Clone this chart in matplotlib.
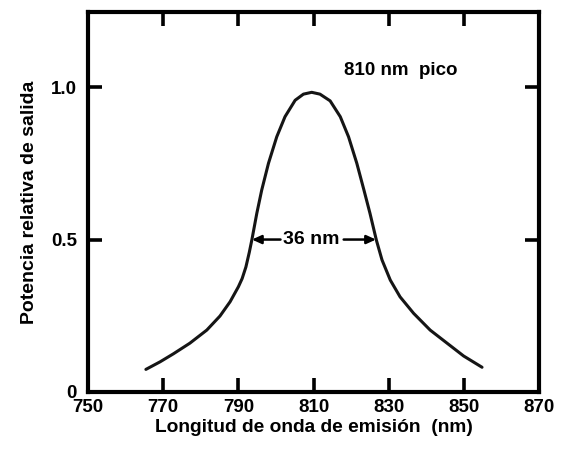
import matplotlib
matplotlib.use("Agg")
import matplotlib.pyplot as plt

# values
wavelength = [765.4, 769.2, 772.7, 777.1, 781.6, 785.1, 787.8, 790.0, 791.0,
              792.0, 792.9, 793.6, 794.9, 796.2, 798.0, 800.2, 802.4, 805.1,
              807.3, 809.5, 811.7, 814.4, 817.1, 819.3, 821.5, 823.4, 825.0,
              826.7, 828.2, 830.4, 833.0, 836.6, 841.0, 845.5, 849.9, 854.8]
power = [0.074, 0.099, 0.125, 0.160, 0.203, 0.249, 0.296, 0.345, 0.372,
         0.410, 0.458, 0.500, 0.586, 0.662, 0.750, 0.837, 0.903, 0.957,
         0.977, 0.983, 0.977, 0.955, 0.903, 0.837, 0.750, 0.662, 0.586,
         0.498, 0.433, 0.367, 0.312, 0.258, 0.203, 0.160, 0.118, 0.081]

x_ticks = [750, 770, 790, 810, 830, 850, 870]
y_ticks = [0, 0.5, 1.0]
y_tick_labels = ['0', '0.5', '1.0']

fwhm_left, fwhm_right = 793.6, 826.6
peak_label = '810 nm  pico'
width_label = '36 nm'

plt.rcParams['font.family'] = ['Liberation Sans', 'DejaVu Sans']
plt.rcParams['font.weight'] = 'bold'

fig = plt.figure(figsize=(5.64, 4.5), dpi=100)
ax = fig.add_axes([0.156, 0.129, 0.800, 0.844])

ax.plot(wavelength, power, color='#151515', linewidth=2.2,
        solid_capstyle='round', solid_joinstyle='round')

ax.set_xlim(750, 870)
ax.set_ylim(0, 1.246)
ax.set_xticks(x_ticks)
ax.set_yticks(y_ticks)
ax.set_yticklabels(y_tick_labels)

# inward ticks on every side, labels only on left and bottom
ax.tick_params(direction='in', length=10, width=2.6, top=True, right=True,
               labelsize=13.5, pad=5, colors='black')
ax.tick_params(axis='y', pad=8)
for s in ax.spines.values():
    s.set_linewidth(3)

ax.set_xlabel('Longitud de onda de emisión  (nm)', fontsize=13.8, fontweight='bold', labelpad=2)
ax.set_ylabel('Potencia relativa de salida', fontsize=14, fontweight='bold', labelpad=9)

# annotations
ax.text(833.3, 1.056, peak_label, ha='center', va='center', fontsize=13.5, fontweight='bold')
ax.text(809.5, 0.5, width_label, ha='center', va='center', fontsize=14, fontweight='bold')
arrow = dict(arrowstyle='-|>,head_length=0.55,head_width=0.25', color='black', lw=1.8,
             shrinkA=0, shrinkB=0)
ax.annotate('', xy=(fwhm_left, 0.5), xytext=(801.2, 0.5), arrowprops=arrow)
ax.annotate('', xy=(fwhm_right, 0.5), xytext=(818.0, 0.5), arrowprops=arrow)

fig.savefig('out.png', dpi=100)
